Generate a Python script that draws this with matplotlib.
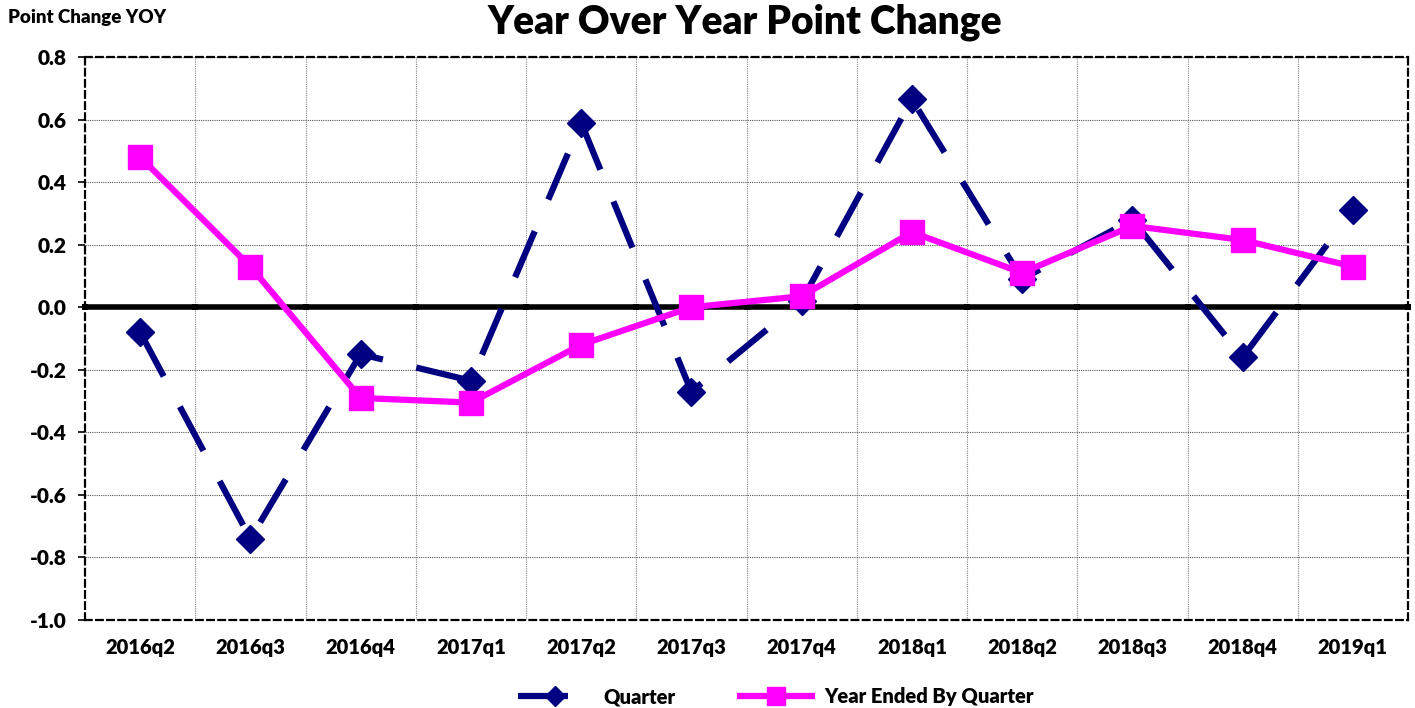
import numpy as np
import matplotlib
matplotlib.use("Agg")
import matplotlib.pyplot as plt

plt.rcParams['font.family'] = ['Lato', 'DejaVu Sans']
plt.rcParams['font.weight'] = 'bold'

categories = ["2016q2", "2016q3", "2016q4", "2017q1", "2017q2", "2017q3",
              "2017q4", "2018q1", "2018q2", "2018q3", "2018q4", "2019q1"]
quarter = [-0.08, -0.74, -0.15, -0.235, 0.59, -0.27, 0.02, 0.665, 0.09, 0.28, -0.16, 0.31]
year_ended = [0.48, 0.13, -0.29, -0.305, -0.12, 0.0, 0.035, 0.24, 0.11, 0.26, 0.215, 0.13]
yticks = [0.8, 0.6, 0.4, 0.2, 0.0, -0.2, -0.4, -0.6, -0.8, -1.0]

navy = "#000080"
magenta = "#FF00FF"
W = 'heavy'

fig = plt.figure(figsize=(14.15, 7.08), dpi=100)
ax = fig.add_axes([85/1415, 1-620/708, (1408-85)/1415, (620-57)/708])

x = np.arange(len(categories))
n = len(categories)
ax.set_xlim(-0.5, n-0.5)
ax.set_ylim(-1.0, 0.8)

# grid
bounds = np.arange(n+1) - 0.5
for b in bounds[1:-1]:
    ax.axvline(b, color="#888888", lw=0.8, ls=(0, (1, 1)), zorder=1)
for t in yticks:
    ax.axhline(t, color="#555555", lw=0.8, ls=(0, (1, 1)), zorder=1)

ax.axhline(0, color="black", lw=4, zorder=2)
ax.plot(bounds, np.zeros_like(bounds), ls='none', marker='s', ms=5, color='black',
        markeredgewidth=0, zorder=2, clip_on=False)

for s in ax.spines.values():
    s.set_linestyle((0, (3, 2)))
    s.set_linewidth(1.6)
    s.set_color("black")

ql, = ax.plot(x, quarter, color=navy, lw=4.5, ls=(0, (8, 5.5)), marker='D', ms=14,
              markeredgecolor=navy, zorder=4)
yl, = ax.plot(x, year_ended, color=magenta, lw=4.5, marker='s', ms=17, zorder=5)

ax.set_xticks(x)
ax.set_xticklabels(categories, fontsize=14.5, fontweight=W)
ax.tick_params(axis='x', length=0, pad=13)
ax.set_yticks(yticks)
ax.set_yticklabels([f"{v:.1f}" for v in yticks], fontsize=15, fontweight=W)
ax.tick_params(axis='y', length=5, width=1.2, pad=8)

fig.text(745/1415, 1-22/708, "Year Over Year Point Change", ha='center', va='center',
         fontsize=28, fontweight=W)
fig.text(8/1415, 1-18/708, "Point Change YOY", ha='left', va='center',
         fontsize=13.5, fontweight=W)

fig.legend([ql, yl], ["Quarter", "Year Ended By Quarter"], loc='center',
           bbox_to_anchor=(776/1415, 1-697/708), ncol=2, frameon=False,
           handlelength=3.6, handletextpad=0.6, columnspacing=3.2, markerscale=0.75,
           prop={'weight': W, 'size': 14.5})

fig.savefig("out.png", dpi=100)
